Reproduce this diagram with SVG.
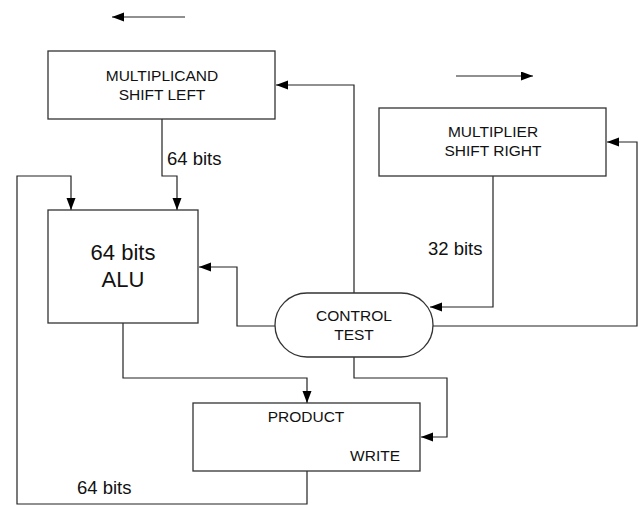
<svg xmlns="http://www.w3.org/2000/svg" width="639" height="505" viewBox="0 0 639 505">
<style>
.box{fill:#fff;stroke:#333;stroke-width:1.3}
.ln{fill:none;stroke:#222;stroke-width:1.2}
.t{font-family:"Liberation Sans",Arial,sans-serif;font-size:15.5px;fill:#111;text-anchor:middle}
.lbl{font-family:"Liberation Sans",Arial,sans-serif;font-size:18.5px;fill:#111}
.big{font-family:"Liberation Sans",Arial,sans-serif;font-size:22px;fill:#111;text-anchor:middle}
</style>
<defs>
<marker id="ah" markerUnits="userSpaceOnUse" markerWidth="13" markerHeight="10" refX="12" refY="4.5" orient="auto">
<path d="M0,0 L12,4.5 L0,9 z" fill="#000"/>
</marker>
</defs>
<g id="connectors">
<line class="ln" x1="185" y1="17" x2="112" y2="17" marker-end="url(#ah)"/>
<line class="ln" x1="456" y1="76" x2="533" y2="76" marker-end="url(#ah)"/>
<polyline class="ln" points="162,119 162,176 177,176 177,210" marker-end="url(#ah)"/>
<polyline class="ln" points="307,471 307,504 17,504 17,176 71,176 71,210" marker-end="url(#ah)"/>
<polyline class="ln" points="354,293 354,85 276,85" marker-end="url(#ah)"/>
<polyline class="ln" points="275,326 237,326 237,267 199,267" marker-end="url(#ah)"/>
<polyline class="ln" points="493,176 493,307 430,307" marker-end="url(#ah)"/>
<polyline class="ln" points="433,326 637,326 637,142 607,142" marker-end="url(#ah)"/>
<polyline class="ln" points="123,323 123,378 307,378 307,403" marker-end="url(#ah)"/>
<polyline class="ln" points="354,357 354,378 447,378 447,437 421,437" marker-end="url(#ah)"/>
<text class="lbl" x="167" y="165">64 bits</text>
<text class="lbl" x="428" y="255">32 bits</text>
<text class="lbl" x="77" y="494">64 bits</text>
</g>
<g id="multiplicand">
<rect class="box" x="48" y="51" width="227" height="68"/>
<text class="t" x="162" y="81">MULTIPLICAND</text>
<text class="t" x="162" y="100">SHIFT LEFT</text>
</g>
<g id="multiplier">
<rect class="box" x="379" y="108" width="227" height="68"/>
<text class="t" x="493" y="137">MULTIPLIER</text>
<text class="t" x="493" y="156">SHIFT RIGHT</text>
</g>
<g id="alu">
<rect class="box" x="48" y="210" width="150" height="113"/>
<text class="big" x="123" y="260">64 bits</text>
<text class="big" x="123" y="287">ALU</text>
</g>
<g id="control">
<rect class="box" x="275" y="293" width="158" height="64" rx="32" ry="32"/>
<text class="t" x="354" y="321">CONTROL</text>
<text class="t" x="354" y="340">TEST</text>
</g>
<g id="product">
<rect class="box" x="193" y="403" width="227" height="68"/>
<text class="t" x="306" y="422">PRODUCT</text>
<text class="t" x="400" y="461" style="text-anchor:end">WRITE</text>
</g>
</svg>
